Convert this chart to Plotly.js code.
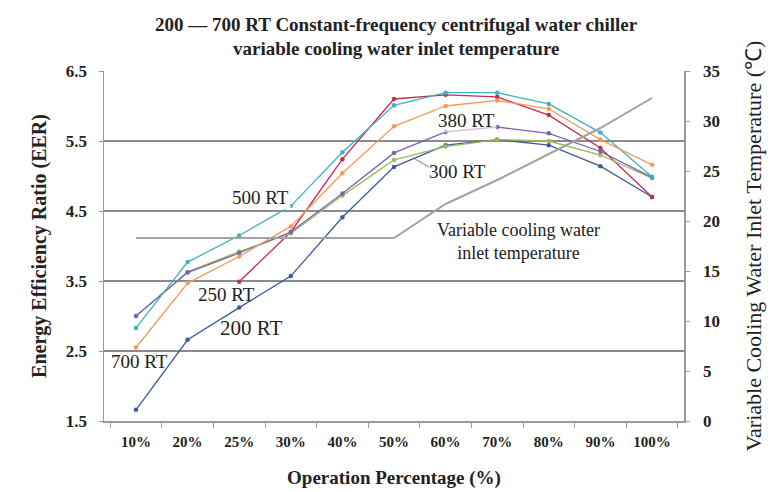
<!DOCTYPE html>
<html><head><meta charset="utf-8">
<script src="https://cdn.plot.ly/plotly-3.0.1.min.js"></script>
<style>html,body{margin:0;padding:0;background:#fff}#chart{width:771px;height:492px}</style>
</head><body><div id="chart"></div>
<script>
const categories = ['10%','20%','25%','30%','40%','50%','60%','70%','80%','90%','100%'];
const rt200 = [1.66,2.66,3.12,3.57,4.41,5.13,5.44,5.52,5.44,5.14,4.70];
const rt250 = [null,null,3.49,4.20,5.24,6.10,6.16,6.13,5.87,5.40,4.70];
const rt300 = [3.00,3.63,3.92,4.18,4.72,5.23,5.42,5.52,5.50,5.30,4.97];
const rt380 = [3.00,3.62,3.90,4.20,4.75,5.33,5.63,5.70,5.61,5.35,4.98];
const rt500 = [2.83,3.77,4.15,4.57,5.34,6.01,6.19,6.19,6.03,5.62,4.99];
const rt700 = [2.55,3.47,3.85,4.28,5.04,5.71,6.00,6.08,5.96,5.52,5.16];
const inletTemp = [18.3,18.3,18.3,18.3,18.3,18.3,21.7,24.1,26.7,29.3,32.3];
const leftTicks = [1.5,2.5,3.5,4.5,5.5,6.5];
const rightTicks = [0,5,10,15,20,25,30,35];

const F = 'Liberation Serif, Times New Roman, serif';
function s(name, y, color){
  return {x: categories, y: y, name: name, type:'scatter', mode:'lines+markers',
    line:{color:color, width:1.3}, marker:{color:color, size:4.5}, connectgaps:false};
}
const traces = [
  {x: categories, y: inletTemp, name:'Variable cooling water inlet temperature', yaxis:'y2',
   type:'scatter', mode:'lines', line:{color:'#a3a3a3', width:2}},
  s('200 RT', rt200, '#3e5a9a'),
  s('250 RT', rt250, '#c0304e'),
  s('300 RT', rt300, '#9bbb59'),
  s('380 RT', rt380, '#7a62ae'),
  s('500 RT', rt500, '#3fb0c0'),
  s('700 RT', rt700, '#f39a5a')
];
function px(x){return (x-104)/580;}
function py(y){return (421-y)/350;}
function lab(text, x, y, size, extra){
  return Object.assign({text:text, xref:'paper', yref:'paper', x:px(x), y:py(y), showarrow:false,
    xanchor:'center', yanchor:'middle', font:{family:F, size:size, color:'#222'}}, extra||{});
}
const layout = {
  width:771, height:492, paper_bgcolor:'#fff', plot_bgcolor:'#fff',
  margin:{l:104, r:87, t:71, b:71},
  showlegend:false,
  xaxis:{type:'category', tickvals:categories, ticktext:categories.map(c=>'<b>'+c+'</b>'),
    tickfont:{family:F, size:15, color:'#222'}, showline:true, linecolor:'#999', linewidth:1.5,
    ticks:'outside', tickson:'boundaries', ticklen:5, tickcolor:'#999', ticklabelstandoff:6,
    showgrid:false, zeroline:false,
    title:{text:'<b>Operation Percentage (%)</b>', font:{family:F, size:19, color:'#222'}, standoff:22}},
  yaxis:{range:[1.5,6.5], tickvals:leftTicks, ticktext:leftTicks.map(v=>'<b>'+v.toFixed(1)+'</b>'),
    tickfont:{family:F, size:17, color:'#222'}, showline:true, linecolor:'#999', linewidth:1.5,
    ticks:'outside', ticklen:4, tickcolor:'#999', ticklabelstandoff:8,
    showgrid:true, gridcolor:'#8c8c8c', gridwidth:1.5, zeroline:false,
    title:{text:'<b>Energy Efficiency Ratio (EER)</b>', font:{family:F, size:20, color:'#222'}, standoff:14}},
  yaxis2:{range:[0,35], overlaying:'y', side:'right', tickvals:rightTicks, ticktext:rightTicks.map(v=>'<b>'+v+'</b>'),
    tickfont:{family:F, size:17, color:'#222'}, showline:true, linecolor:'#999', linewidth:1.5,
    ticks:'outside', ticklen:4, tickcolor:'#999', ticklabelstandoff:10, showgrid:false, zeroline:false,
    title:{text:'Variable Cooling Water Inlet Temperature (℃)', font:{family:F, size:22, color:'#222'}, standoff:26}},
  annotations:[
    lab('<b>200 — 700 RT Constant-frequency centrifugal water chiller</b>', 396, 25, 19),
    lab('<b>variable cooling water inlet temperature</b>', 396, 48, 19),
    lab('500 RT', 260, 197, 19, {bgcolor:'rgba(255,255,255,0.85)'}),
    lab('380 RT', 466, 120, 19, {bgcolor:'rgba(255,255,255,0.6)'}),
    lab('300 RT', 457, 171, 19),
    lab('250 RT', 226, 294, 19),
    lab('200 RT', 251, 328, 21),
    lab('700 RT', 139, 361, 19),
    lab('Variable cooling water<br>inlet temperature', 518, 241, 18, {align:'center'})
  ],
  shapes:[
    {type:'line', xref:'paper', yref:'paper', x0:px(415), y0:py(159), x1:px(429), y1:py(167), line:{color:'#999', width:1.2}}
  ]
};
Plotly.newPlot('chart', traces, layout, {displayModeBar:false, staticPlot:true});
</script></body></html>
